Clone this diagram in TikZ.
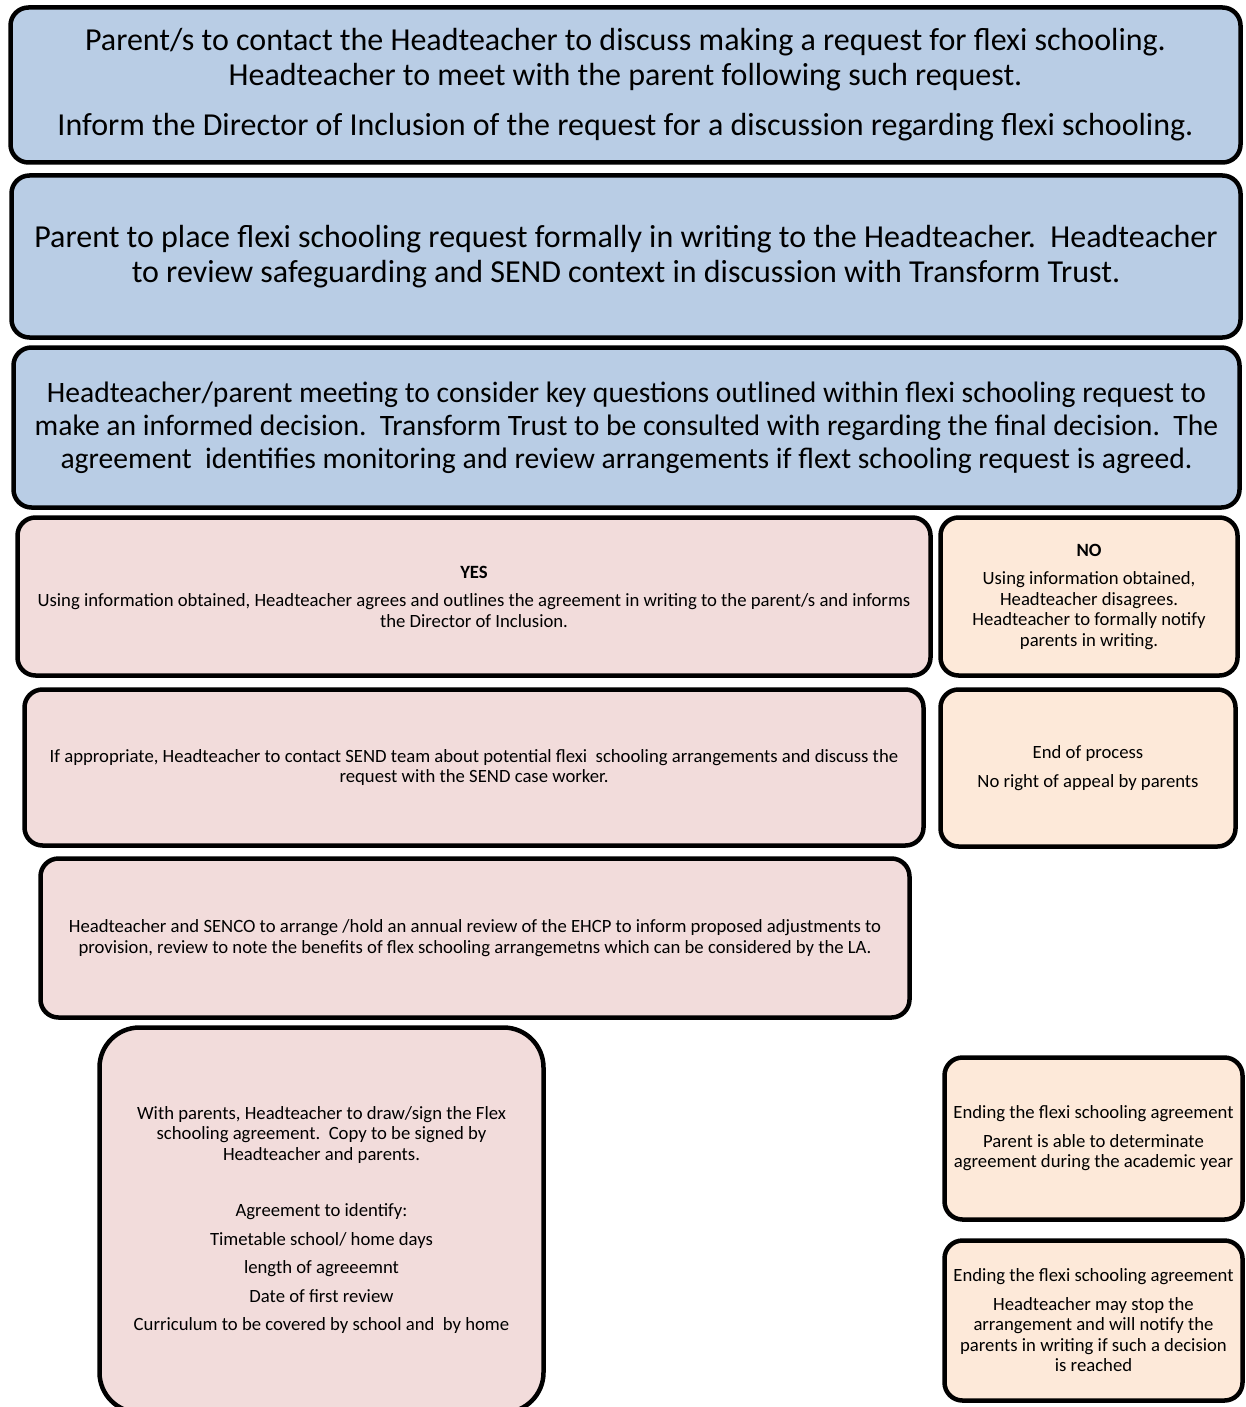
\documentclass[tikz,border=0pt]{standalone}
\usepackage{fontspec}
\setmainfont{Carlito}
\definecolor{bluebox}{HTML}{B9CDE5}
\definecolor{pinkbox}{HTML}{F2DCDB}
\definecolor{peachbox}{HTML}{FDE9D9}
\newcommand\bigsz{\fontsize{32}{34.5}\selectfont}
\newcommand\midsz{\fontsize{29.6}{33}\selectfont}
\newcommand\smallsz{\fontsize{18.7}{20.5}\selectfont}
\begin{document}
\begin{tikzpicture}[x=1pt,y=-1pt,
  box/.style={draw=black, line width=4.5pt, rounded corners=18pt, align=center, inner sep=0pt},
  bluestep/.style={box, fill=bluebox, font=\bigsz},
  pinkstep/.style={box, fill=pinkbox, font=\smallsz},
  peachstep/.style={box, fill=peachbox, font=\smallsz}]
\useasboundingbox (0,0) rectangle (1246,1407);
\fill[white] (0,0) rectangle (1246,1407);

\node[bluestep, minimum width=1230pt, minimum height=155pt] (b1) at (625.5,85)
 {Parent/s to contact the Headteacher to discuss making a request for flexi schooling.\\
  Headteacher to meet with the parent following such request.\\[16pt]
  Inform the Director of Inclusion of the request for a discussion regarding flexi schooling.};

\node[bluestep, minimum width=1229pt, minimum height=162pt] (b2) at (626,256.5)
 {Parent to place flexi schooling request formally in writing to the Headteacher.\ \ Headteacher\\
  to review safeguarding and SEND context in discussion with Transform Trust.};

\node[bluestep, font=\midsz, minimum width=1226pt, minimum height=160pt] (b3) at (626.5,427.5)
 {Headteacher/parent meeting to consider key questions outlined within flexi schooling request to\\
  make an informed decision.\ \ Transform Trust to be consulted with regarding the final decision.\ \ The\\
  agreement\ \ identifies monitoring and review arrangements if flext schooling request is agreed.};

\node[pinkstep, minimum width=913pt, minimum height=158pt] (yes) at (474,596.5)
 {\textbf{YES}\\[8pt]
  Using information obtained, Headteacher agrees and outlines the agreement in writing to the parent/s and informs\\
  the Director of Inclusion.};

\node[peachstep, minimum width=297pt, minimum height=158pt] (no) at (1089,596.5)
 {\textbf{NO}\\[8pt]
  Using information obtained,\\ Headteacher disagrees.\\ Headteacher to formally notify\\ parents in writing.};

\node[pinkstep, minimum width=899pt, minimum height=156pt] (send) at (474,767.5)
 {If appropriate, Headteacher to contact SEND team about potential flexi\ \ schooling arrangements and discuss the\\
  request with the SEND case worker.};

\node[peachstep, minimum width=295pt, minimum height=157pt] (end) at (1088,768)
 {End of process\\[8pt] No right of appeal by parents};

\node[pinkstep, minimum width=869pt, minimum height=159pt] (ehcp) at (475,938)
 {Headteacher and SENCO to arrange /hold an annual review of the EHCP to inform proposed adjustments to\\
  provision, review to note the benefits of flex schooling arrangemetns which can be considered by the LA.};

\node[pinkstep, rounded corners=40pt, minimum width=444pt, minimum height=385pt] (flex) at (321.5,1220)
 {With parents, Headteacher to draw/sign the Flex\\
  schooling agreement.\ \ Copy to be signed by\\
  Headteacher and parents.\\[36pt]
  Agreement to identify:\\[8pt]
  Timetable school/ home days\\[8pt]
  length of agreeemnt\\[8pt]
  Date of first review\\[8pt]
  Curriculum to be covered by school and\ \ by home};

\node[peachstep, minimum width=298pt, minimum height=162pt] (end1) at (1093.5,1138.5)
 {Ending the flexi schooling agreement\\[8pt]
  Parent is able to determinate\\ agreement during the academic year};

\node[peachstep, minimum width=298pt, minimum height=160pt] (end2) at (1093.5,1320.5)
 {Ending the flexi schooling agreement\\[8pt]
  Headteacher may stop the\\ arrangement and will notify the\\ parents in writing if such a decision\\ is reached};
\end{tikzpicture}
\end{document}
